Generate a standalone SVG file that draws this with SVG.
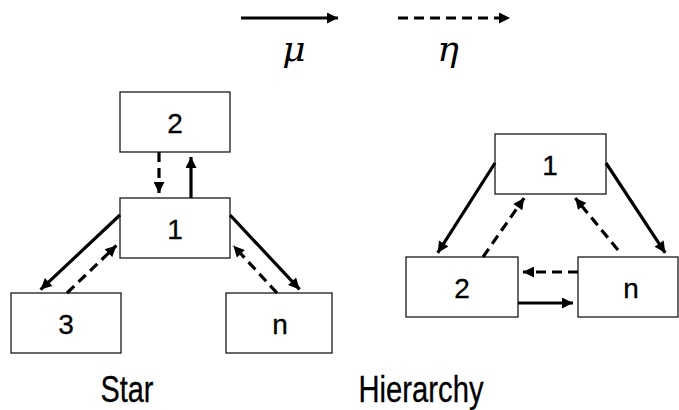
<svg xmlns="http://www.w3.org/2000/svg" width="679" height="410" viewBox="0 0 679 410">
  <style>
    .box rect { fill: #ffffff; stroke: #1a1a1a; stroke-width: 1.3; }
    .box text { font-family: "Liberation Sans", Arial, sans-serif; font-size: 28px; fill: #000; text-anchor: middle; stroke: #000; stroke-width: 0.3; }
    .conn line { stroke: #000; stroke-width: 3.2; fill: none; stroke-linecap: butt; marker-end: url(#head); }
    .conn .dash { stroke-dasharray: 10 6; }
    .sym { font-family: "DejaVu Serif", "Liberation Serif", serif; font-style: italic; font-size: 36px; fill: #000; text-anchor: middle; }
    .title { font-family: "Liberation Sans", Arial, sans-serif; font-size: 36px; fill: #000; text-anchor: middle; stroke: #000; stroke-width: 0.3; }
  </style>
  <defs>
    <marker id="head" viewBox="0 0 10 10" refX="10" refY="5" markerWidth="12" markerHeight="11" markerUnits="userSpaceOnUse" orient="auto">
      <path d="M0,0 L10,5 L0,10 Z" fill="#000"/>
    </marker>
  </defs>

  <!-- legend -->
  <g id="legend">
    <g class="conn">
      <line x1="241" y1="18" x2="338" y2="18"/>
      <line class="dash" x1="398" y1="18" x2="510" y2="18"/>
    </g>
    <text class="sym" x="294" y="61">μ</text>
    <text class="sym" x="448" y="61">η</text>
  </g>

  <!-- star topology -->
  <g id="star-2" class="box"><rect x="120" y="92" width="110" height="60"/><text x="175" y="133">2</text></g>
  <g id="star-1" class="box"><rect x="120" y="198" width="110" height="60"/><text x="175" y="239">1</text></g>
  <g id="star-3" class="box"><rect x="11" y="293" width="110" height="60"/><text x="66" y="334">3</text></g>
  <g id="star-n" class="box"><rect x="226" y="293" width="106" height="60"/><text x="280" y="334">n</text></g>

  <!-- hierarchy topology -->
  <g id="hier-1" class="box"><rect x="495" y="134" width="111" height="60"/><text x="550" y="175">1</text></g>
  <g id="hier-2" class="box"><rect x="406" y="257" width="112" height="60"/><text x="462" y="298">2</text></g>
  <g id="hier-n" class="box"><rect x="578" y="257" width="100" height="60"/><text x="631" y="298">n</text></g>

  <!-- connectors -->
  <g id="connectors" class="conn">
    <line class="dash" x1="159" y1="152" x2="159" y2="193"/>
    <line x1="191" y1="198" x2="191" y2="157"/>
    <line x1="120" y1="215" x2="40.6" y2="289.6"/>
    <line class="dash" x1="67" y1="293" x2="116.4" y2="245.5"/>
    <line x1="230" y1="215" x2="299.6" y2="289.4"/>
    <line class="dash" x1="277" y1="293" x2="233.4" y2="245.7"/>

    <line x1="495" y1="163" x2="437.7" y2="252.8"/>
    <line class="dash" x1="483" y1="257" x2="524.1" y2="198.1"/>
    <line x1="606" y1="163" x2="665.2" y2="252.8"/>
    <line class="dash" x1="618" y1="250" x2="575.2" y2="197.9"/>
    <line class="dash" x1="578" y1="272" x2="523" y2="272"/>
    <line x1="518" y1="303" x2="573" y2="303"/>
  </g>

  <text class="title" x="127" y="402" textLength="53" lengthAdjust="spacingAndGlyphs">Star</text>
  <text class="title" x="421" y="402" textLength="125" lengthAdjust="spacingAndGlyphs">Hierarchy</text>
</svg>
